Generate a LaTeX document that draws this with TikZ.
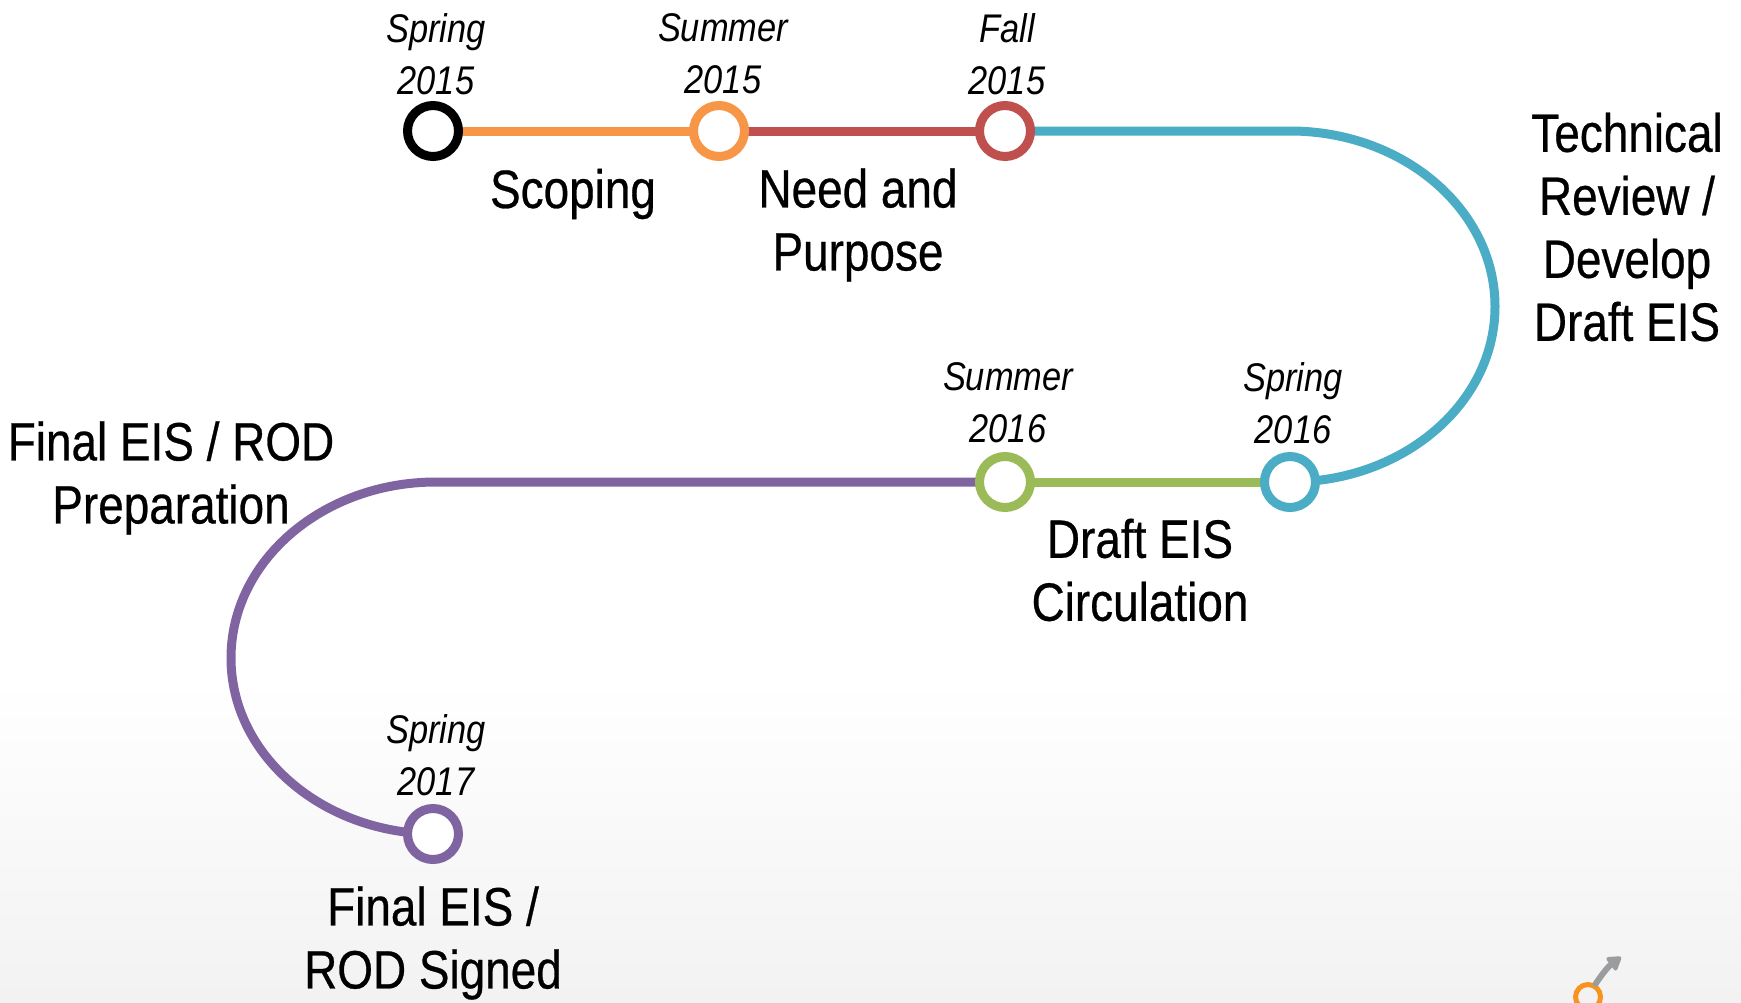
\documentclass[tikz,border=0pt]{standalone}
\usepackage{fontspec}
\setmainfont{Liberation Sans}[FakeStretch=0.85,FakeBold=0.5]
\newfontfamily\datefont{Liberation Sans}[FakeStretch=0.86]
\usetikzlibrary{arrows.meta}
\definecolor{cOrange}{HTML}{F79646}
\definecolor{cRed}{HTML}{C0504D}
\definecolor{cBlue}{HTML}{4BACC6}
\definecolor{cGreen}{HTML}{9BBB59}
\definecolor{cPurple}{HTML}{8064A2}
\definecolor{cIconOrange}{HTML}{F7931E}
\definecolor{cIconGray}{HTML}{9A9C9E}
\definecolor{cBottom}{HTML}{F2F2F2}
\begin{document}
\begin{tikzpicture}[x=1pt,y=-1pt,
  ring/.style={circle,draw,fill=white,line width=9pt,minimum size=51pt,inner sep=0pt},
  seg/.style={line width=9pt},
  lbl/.style={align=center,font=\fontsize{54}{63}\selectfont,inner sep=0pt},
  datelbl/.style={align=center,font=\datefont\itshape\fontsize{40}{52}\selectfont,inner sep=0pt}]
\useasboundingbox (0,0) rectangle (1741,1002);
\fill[white] (0,0) rectangle (1741,1002);
\shade[top color=white,bottom color=cBottom] (0,680) rectangle (1741,1002);

% milestone positions
\coordinate (p1) at (433,131);
\coordinate (p2) at (719,131);
\coordinate (p3) at (1005,131);
\coordinate (c1) at (1290,131);
\coordinate (p4) at (1290,482);
\coordinate (p5) at (1005,482);
\coordinate (c2) at (436,482);
\coordinate (p6) at (433,834);

% track segments
\draw[seg,cOrange] (p1) -- (p2);
\draw[seg,cRed] (p2) -- (p3);
\draw[seg,cBlue] (p3) -- (c1) arc[start angle=-90,end angle=90,x radius=205,y radius=175.5];
\draw[seg,cGreen] (p4) -- (p5);
\draw[seg,cPurple] (p5) -- (c2) arc[start angle=-90,end angle=-270,x radius=205,y radius=176];

% milestone rings
\node[ring,draw=black] (n1) at (p1) {};
\node[ring,draw=cOrange] (n2) at (p2) {};
\node[ring,draw=cRed] (n3) at (p3) {};
\node[ring,draw=cBlue] (n4) at (p4) {};
\node[ring,draw=cGreen] (n5) at (p5) {};
\node[ring,draw=cPurple] (n6) at (p6) {};

% dates
\node[datelbl] (d1) at (436,54) {Spring\\2015};
\node[datelbl] (d2) at (723,54) {Summer\\2015};
\node[datelbl] (d3) at (1007,54) {Fall\\2015};
\node[datelbl] (d4) at (1008,403) {Summer\\2016};
\node[datelbl] (d5) at (1293,403) {Spring\\2016};
\node[datelbl] (d6) at (436,755) {Spring\\2017};

% phase labels
\node[lbl] (l1) at (573,194) {Scoping};
\node[lbl] (l2) at (858,225) {Need and\\Purpose};
\node[lbl] (l3) at (1627,227) {Technical\\Review /\\Develop\\Draft EIS};
\node[lbl] (l4) at (1140,570) {Draft EIS\\Circulation};
\node[lbl] (l5) at (171,478) {Final EIS / ROD\\Preparation};
\node[lbl] (l6) at (433,943) {Final EIS /\\ROD Signed};

% corner icon
\node[circle,draw=cIconOrange,line width=5pt,minimum size=25pt,inner sep=0pt] (ic) at (1588,997) {};
\coordinate (icTip) at (1621,957);
\draw[cIconGray,line width=6pt,line cap=round,-{Triangle[length=15pt,width=18pt,round]}] (ic.60) to[bend left=10] (icTip);
\end{tikzpicture}
\end{document}
